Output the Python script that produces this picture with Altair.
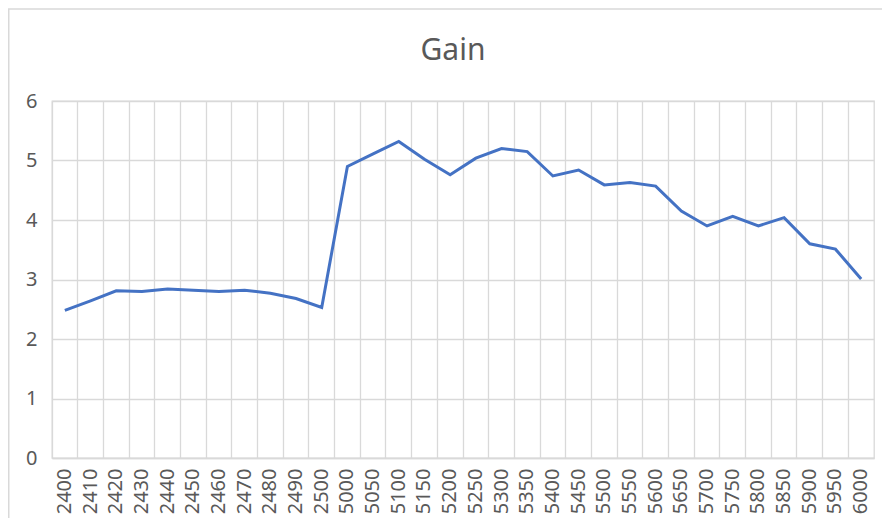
import altair as alt
import pandas as pd

freqs = ["2400", "2410", "2420", "2430", "2440", "2450", "2460", "2470", "2480", "2490", "2500",
         "5000", "5050", "5100", "5150", "5200", "5250", "5300", "5350", "5400", "5450",
         "5500", "5550", "5600", "5650", "5700", "5750", "5800", "5850", "5900", "5950", "6000"]
gain = [2.48, 2.64, 2.81, 2.80, 2.84, 2.82, 2.80, 2.82, 2.77, 2.68, 2.53,
        4.90, 5.11, 5.32, 5.02, 4.76, 5.04, 5.20, 5.15, 4.74, 4.84,
        4.59, 4.63, 4.57, 4.15, 3.90, 4.06, 3.90, 4.04, 3.60, 3.51, 3.01]
title_text = ["Gain"]

df = pd.DataFrame({"freq": freqs, "gain": gain})

W, H = 822, 357
FONT = "Noto Sans"
GRID = "#d9d9d9"
TXT = "#595959"

line = alt.Chart(df).mark_line(color="#4472C4", strokeWidth=3).encode(
    x=alt.X("freq:O", sort=freqs,
            scale=alt.Scale(type="band", paddingInner=0, paddingOuter=0),
            axis=alt.Axis(title=None, labelAngle=-90, bandPosition=0,
                          grid=True, gridColor=GRID, gridWidth=1.3,
                          ticks=False, domain=True, domainColor=GRID, domainWidth=1.5,
                          labelFont=FONT, labelFontSize=20, labelColor=TXT,
                          labelPadding=10)),
    y=alt.Y("gain:Q", scale=alt.Scale(domain=[0, 6], nice=False),
            axis=alt.Axis(title=None, values=[0, 1, 2, 3, 4, 5, 6], format="d",
                          grid=True, gridColor=GRID, gridWidth=1.3,
                          ticks=False, domain=False,
                          labelFont=FONT, labelFontSize=20, labelColor=TXT,
                          labelPadding=15)),
)

border = alt.Chart(alt.Data(values=[{}])).mark_rect(
    fill=None, stroke=GRID, strokeWidth=1.5
).encode(
    x=alt.value(-43.25), x2=alt.value(1000),
    y=alt.value(-92), y2=alt.value(1000),
)

title = alt.Chart(pd.DataFrame({"t": title_text})).mark_text(
    font=FONT, fontSize=30, color=TXT, align="center", baseline="alphabetic"
).encode(
    text="t:N", x=alt.value(401), y=alt.value(-41),
)

chart = alt.layer(border, line, title).properties(
    width=W, height=H,
    padding={"left": 44, "top": 93, "right": 8, "bottom": 60},
    autosize=alt.AutoSizeParams(type="none"),
).configure_view(stroke=GRID, strokeWidth=1.3)

chart.save("out.html", embed_options={"renderer": "svg", "actions": False})
